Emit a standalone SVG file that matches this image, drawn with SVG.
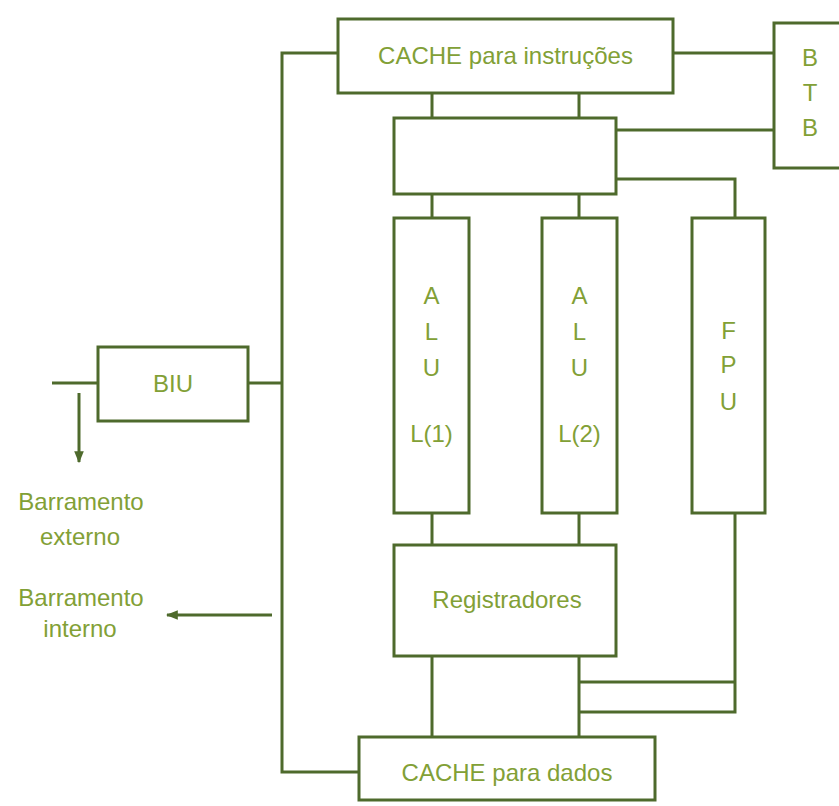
<svg xmlns="http://www.w3.org/2000/svg" width="839" height="806" viewBox="0 0 839 806">
<style>
.box{fill:#ffffff;stroke:#4e6a2c;stroke-width:3}
.ln{fill:none;stroke:#4e6a2c;stroke-width:3}
.t{font-family:"Liberation Sans",Arial,sans-serif;font-size:24px;fill:#82a036;text-anchor:middle}
</style>
<defs>
<marker id="ah" viewBox="0 0 10 10" refX="9" refY="5" markerWidth="4" markerHeight="4" orient="auto" markerUnits="strokeWidth">
<path d="M0,1 L10,5 L0,9 z" fill="#4e6a2c"/>
</marker>
</defs>
<rect width="839" height="806" fill="#ffffff"/>
<g id="connectors">
<path class="ln" d="M338,53 H282 V772 H359"/>
<path class="ln" d="M673,53 H774"/>
<path class="ln" d="M616,130 H774"/>
<path class="ln" d="M616,179 H735 V218"/>
<path class="ln" d="M432,93 V118 M579,93 V118"/>
<path class="ln" d="M432,194 V218 M579,194 V218"/>
<path class="ln" d="M432,513 V545 M579,513 V545"/>
<path class="ln" d="M735,513 V712 H579 M735,682 H579"/>
<path class="ln" d="M432,656 V737 M579,656 V737"/>
<path class="ln" d="M52,383 H98 M248,383 H282"/>
<path class="ln" d="M79,393 V462" marker-end="url(#ah)"/>
<path class="ln" d="M272,615 H167" marker-end="url(#ah)" stroke-width="2.5"/>
</g>
<g id="cache-instr">
<rect class="box" x="338" y="19" width="335" height="74"/>
<text class="t" x="505.5" y="64">CACHE para instruções</text>
</g>
<g id="decoder">
<rect class="box" x="394" y="118" width="222" height="76"/>
</g>
<g id="btb">
<rect class="box" x="774" y="23" width="72" height="145"/>
<text class="t" x="810" y="66">B</text>
<text class="t" x="810" y="101">T</text>
<text class="t" x="810" y="136">B</text>
</g>
<g id="alu1">
<rect class="box" x="394" y="218" width="75" height="295"/>
<text class="t" x="431.5" y="304">A</text>
<text class="t" x="431.5" y="340">L</text>
<text class="t" x="431.5" y="376">U</text>
<text class="t" x="431.5" y="442">L(1)</text>
</g>
<g id="alu2">
<rect class="box" x="542" y="218" width="75" height="295"/>
<text class="t" x="579.5" y="304">A</text>
<text class="t" x="579.5" y="340">L</text>
<text class="t" x="579.5" y="376">U</text>
<text class="t" x="579.5" y="442">L(2)</text>
</g>
<g id="fpu">
<rect class="box" x="692" y="218" width="73" height="295"/>
<text class="t" x="728.5" y="339">F</text>
<text class="t" x="728.5" y="373">P</text>
<text class="t" x="728.5" y="410">U</text>
</g>
<g id="registradores">
<rect class="box" x="394" y="545" width="222" height="111"/>
<text class="t" x="507" y="608">Registradores</text>
</g>
<g id="cache-dados">
<rect class="box" x="359" y="737" width="296" height="63"/>
<text class="t" x="507" y="781">CACHE para dados</text>
</g>
<g id="biu">
<rect class="box" x="98" y="347" width="150" height="74"/>
<text class="t" x="173" y="392">BIU</text>
</g>
<g id="labels">
<text class="t" x="81" y="510">Barramento</text>
<text class="t" x="80" y="545">externo</text>
<text class="t" x="81" y="606">Barramento</text>
<text class="t" x="80" y="637">interno</text>
</g>
</svg>
